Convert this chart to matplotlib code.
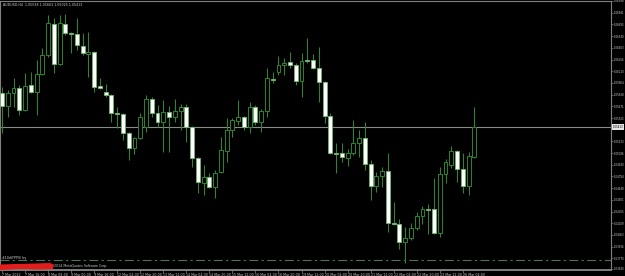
import numpy as np
import matplotlib
matplotlib.use('Agg')
import matplotlib.pyplot as plt
from matplotlib.patches import Polygon
from matplotlib.transforms import blended_transform_factory

symbol = 'AUDUSD,H4'

# H4 candles, 7 Mar 2012 00:00 .. 26 Mar 2012 12:00
opens = [1.05838, 1.05675, 1.05838, 1.05900, 1.05625, 1.05938, 1.05850, 1.06075, 1.06313, 1.06700,
         1.06200, 1.06700, 1.06588, 1.06575, 1.06425, 1.06325, 1.06350, 1.05925, 1.05850, 1.05813,
         1.05588, 1.05575, 1.05338, 1.05150, 1.05275, 1.05413, 1.05763, 1.05588, 1.05475, 1.05600,
         1.05538, 1.05613, 1.05663, 1.05413, 1.05025, 1.04713, 1.04788, 1.04663, 1.04850, 1.05113,
         1.05375, 1.05488, 1.05538, 1.05413, 1.05663, 1.05475, 1.05613, 1.06013, 1.06100, 1.06188,
         1.06225, 1.06188, 1.05988, 1.06250, 1.06250, 1.06150, 1.05975, 1.05550, 1.05088, 1.05088,
         1.05025, 1.05088, 1.05213, 1.05275, 1.04950, 1.04675, 1.04800, 1.04863, 1.04213, 1.04200,
         1.03975, 1.04025, 1.04150, 1.04300, 1.04388, 1.04388, 1.04088, 1.04825, 1.04938, 1.05113,
         1.04888, 1.04675, 1.05038]
highs = [1.05913, 1.05875, 1.06025, 1.05938, 1.06088, 1.06100, 1.06250, 1.06400, 1.06813, 1.06775,
         1.06813, 1.06825, 1.06600, 1.06775, 1.06588, 1.06600, 1.06363, 1.06025, 1.05950, 1.05825,
         1.05663, 1.05588, 1.05350, 1.05288, 1.05588, 1.05813, 1.05788, 1.05688, 1.05750, 1.05675,
         1.05763, 1.05700, 1.05700, 1.05425, 1.05038, 1.04938, 1.04838, 1.04875, 1.05288, 1.05525,
         1.05525, 1.05750, 1.05550, 1.05725, 1.05688, 1.05638, 1.06150, 1.06100, 1.06300, 1.06275,
         1.06350, 1.06213, 1.06338, 1.06525, 1.06325, 1.06413, 1.05988, 1.05588, 1.05213, 1.05213,
         1.05138, 1.05500, 1.05375, 1.05475, 1.05000, 1.04850, 1.04913, 1.05088, 1.04475, 1.04263,
         1.04163, 1.04213, 1.04350, 1.04425, 1.04450, 1.04775, 1.04913, 1.05013, 1.05175, 1.05125,
         1.05088, 1.05100, 1.05663]
lows = [1.05338, 1.05538, 1.05663, 1.05563, 1.05613, 1.05838, 1.05563, 1.06063, 1.06288, 1.06088,
        1.06188, 1.06563, 1.06338, 1.06375, 1.06313, 1.06038, 1.05850, 1.05888, 1.05788, 1.05475,
        1.05400, 1.05250, 1.05000, 1.05075, 1.05263, 1.05350, 1.05538, 1.05413, 1.05100, 1.05100,
        1.05475, 1.05375, 1.05225, 1.04913, 1.04588, 1.04563, 1.04650, 1.04525, 1.04838, 1.04975,
        1.05288, 1.05438, 1.05375, 1.05338, 1.05438, 1.05350, 1.05538, 1.05963, 1.06063, 1.06063,
        1.06150, 1.05938, 1.05788, 1.06213, 1.06138, 1.05725, 1.05463, 1.05075, 1.04838, 1.04975,
        1.04925, 1.05063, 1.05038, 1.04875, 1.04500, 1.04600, 1.04663, 1.04100, 1.04188, 1.03888,
        1.03713, 1.04000, 1.04125, 1.04200, 1.04075, 1.04075, 1.04038, 1.04713, 1.04900, 1.04725,
        1.04588, 1.04563, 1.05025]
closes = [1.05675, 1.05838, 1.05900, 1.05625, 1.05925, 1.05850, 1.06075, 1.06313, 1.06713, 1.06200,
          1.06713, 1.06588, 1.06575, 1.06438, 1.06338, 1.06350, 1.05913, 1.05900, 1.05813, 1.05588,
          1.05575, 1.05338, 1.05150, 1.05275, 1.05538, 1.05763, 1.05588, 1.05475, 1.05600, 1.05538,
          1.05613, 1.05663, 1.05413, 1.05025, 1.04725, 1.04788, 1.04663, 1.04838, 1.05125, 1.05375,
          1.05500, 1.05538, 1.05413, 1.05663, 1.05475, 1.05613, 1.06025, 1.06000, 1.06188, 1.06213,
          1.06188, 1.05988, 1.06238, 1.06238, 1.06150, 1.05975, 1.05550, 1.05088, 1.05075, 1.05038,
          1.05088, 1.05213, 1.05275, 1.04950, 1.04675, 1.04800, 1.04863, 1.04213, 1.04200, 1.03975,
          1.04025, 1.04150, 1.04300, 1.04388, 1.04375, 1.04088, 1.04825, 1.04975, 1.05113, 1.04888,
          1.04675, 1.05050, 1.05413]

time_labels = ['7 Mar 2012', '7 Mar 16:00', '8 Mar 08:00', '9 Mar 00:00', '9 Mar 16:00',
               '12 Mar 04:00', '12 Mar 20:00', '13 Mar 12:00', '14 Mar 04:00', '14 Mar 20:00',
               '15 Mar 12:00', '16 Mar 04:00', '16 Mar 20:00', '19 Mar 12:00', '20 Mar 04:00',
               '20 Mar 20:00', '21 Mar 12:00', '22 Mar 04:00', '22 Mar 20:00', '23 Mar 12:00',
               '26 Mar 04:00']
time_label_bars = [0, 4, 8, 12, 16, 20, 24, 28, 32, 36, 40, 44, 48, 52, 56, 60, 64, 68, 72, 76, 80]

price_ticks = [1.06988, 1.06841, 1.06695, 1.06549, 1.06403, 1.06256, 1.06110, 1.05964,
               1.05818, 1.05671, 1.05525, 1.05233, 1.05086, 1.04940, 1.04794, 1.04648,
               1.04501, 1.04355, 1.04209, 1.04063, 1.03916, 1.03770, 1.03640]

level_line = 1.03750

opens = np.array(opens); highs = np.array(highs)
lows = np.array(lows); closes = np.array(closes)

W, H = 625, 276
fig = plt.figure(figsize=(W / 100, H / 100), dpi=100, facecolor='black')
ax = fig.add_axes([0, (H - 269.5) / H, 611 / W, 268.5 / H])
ax.set_facecolor('black')

green = '#2c862c'
x = np.arange(len(opens))
bull = closes >= opens
ax.vlines(x, lows, highs, color=green, lw=0.75, zorder=2)
ax.bar(x, np.abs(closes - opens), bottom=np.minimum(opens, closes), width=0.68,
       color=np.where(bull, 'black', 'white'), edgecolor=np.where(bull, green, '#6fb06f'),
       linewidth=0.7, zorder=3)

ax.axhline(closes[-1], color='#8a8a8a', lw=0.8, zorder=1)
ax.axhline(level_line, color='#4f724f', lw=0.8, linestyle=(0, (8, 3, 2, 3)), zorder=1)

ax.set_xlim(-2 / 5.76, 609 / 5.76)
ax.set_ylim(1.0363125, 1.069875)

for s in ax.spines.values():
    s.set_color('#808080')
    s.set_linewidth(0.8)
ax.spines['bottom'].set_linewidth(1.4)

ax.yaxis.tick_right()
ax.set_yticks(price_ticks)
ax.set_yticklabels([f'{v:.5f}' for v in price_ticks])
ax.tick_params(axis='y', colors='#808080', labelcolor='#c8c8c8', labelsize=1.9,
               length=1.5, width=0.5, pad=0.4)
ax.set_xticks(time_label_bars)
ax.set_xticklabels(time_labels)
ax.tick_params(axis='x', colors='#808080', labelcolor='#c8c8c8', labelsize=2.3,
               length=2, width=0.5, pad=0.3)
for lab in ax.get_xticklabels():
    lab.set_ha('left')

tr = blended_transform_factory(ax.transAxes, ax.transData)
ax.text(1.003, closes[-1], f'{closes[-1]:.5f}', transform=tr, ha='left', va='center',
        fontsize=1.9, color='black', clip_on=False,
        bbox=dict(boxstyle='square,pad=0.2', fc='#e6e6e6', ec='none'))

o, h, l, c = opens[-1], highs[-1], lows[-1], closes[-1]
fig.text(3 / W, 1 - 4.5 / H, f'{symbol}  {o:.5f} {h:.5f} {l:.5f} {c:.5f}',
         fontsize=2.3, color='#d0d0d0', ha='left', va='center')
fig.text(2 / W, 1 - 258 / H, '#10d(FPPS) by', fontsize=2.3, color='#d0d0d0',
         ha='left', va='center')

# redacted copyright line
pts = np.array([(0, 264.5), (15, 264), (35, 263.5), (50, 263), (54, 264.5),
                (53, 269), (40, 269.5), (20, 269), (0, 270)])
pts = np.column_stack([pts[:, 0] / W, 1 - pts[:, 1] / H])
fig.add_artist(Polygon(pts, closed=True, transform=fig.transFigure,
                       fc='#e31c1c', ec='none', zorder=5))
fig.text(54 / W, 1 - 266.5 / H, '2014 MetaQuotes Software Corp.', fontsize=2.3,
         color='#c8c8c8', ha='left', va='center')

fig.savefig('out.png', dpi=100, facecolor='black')
